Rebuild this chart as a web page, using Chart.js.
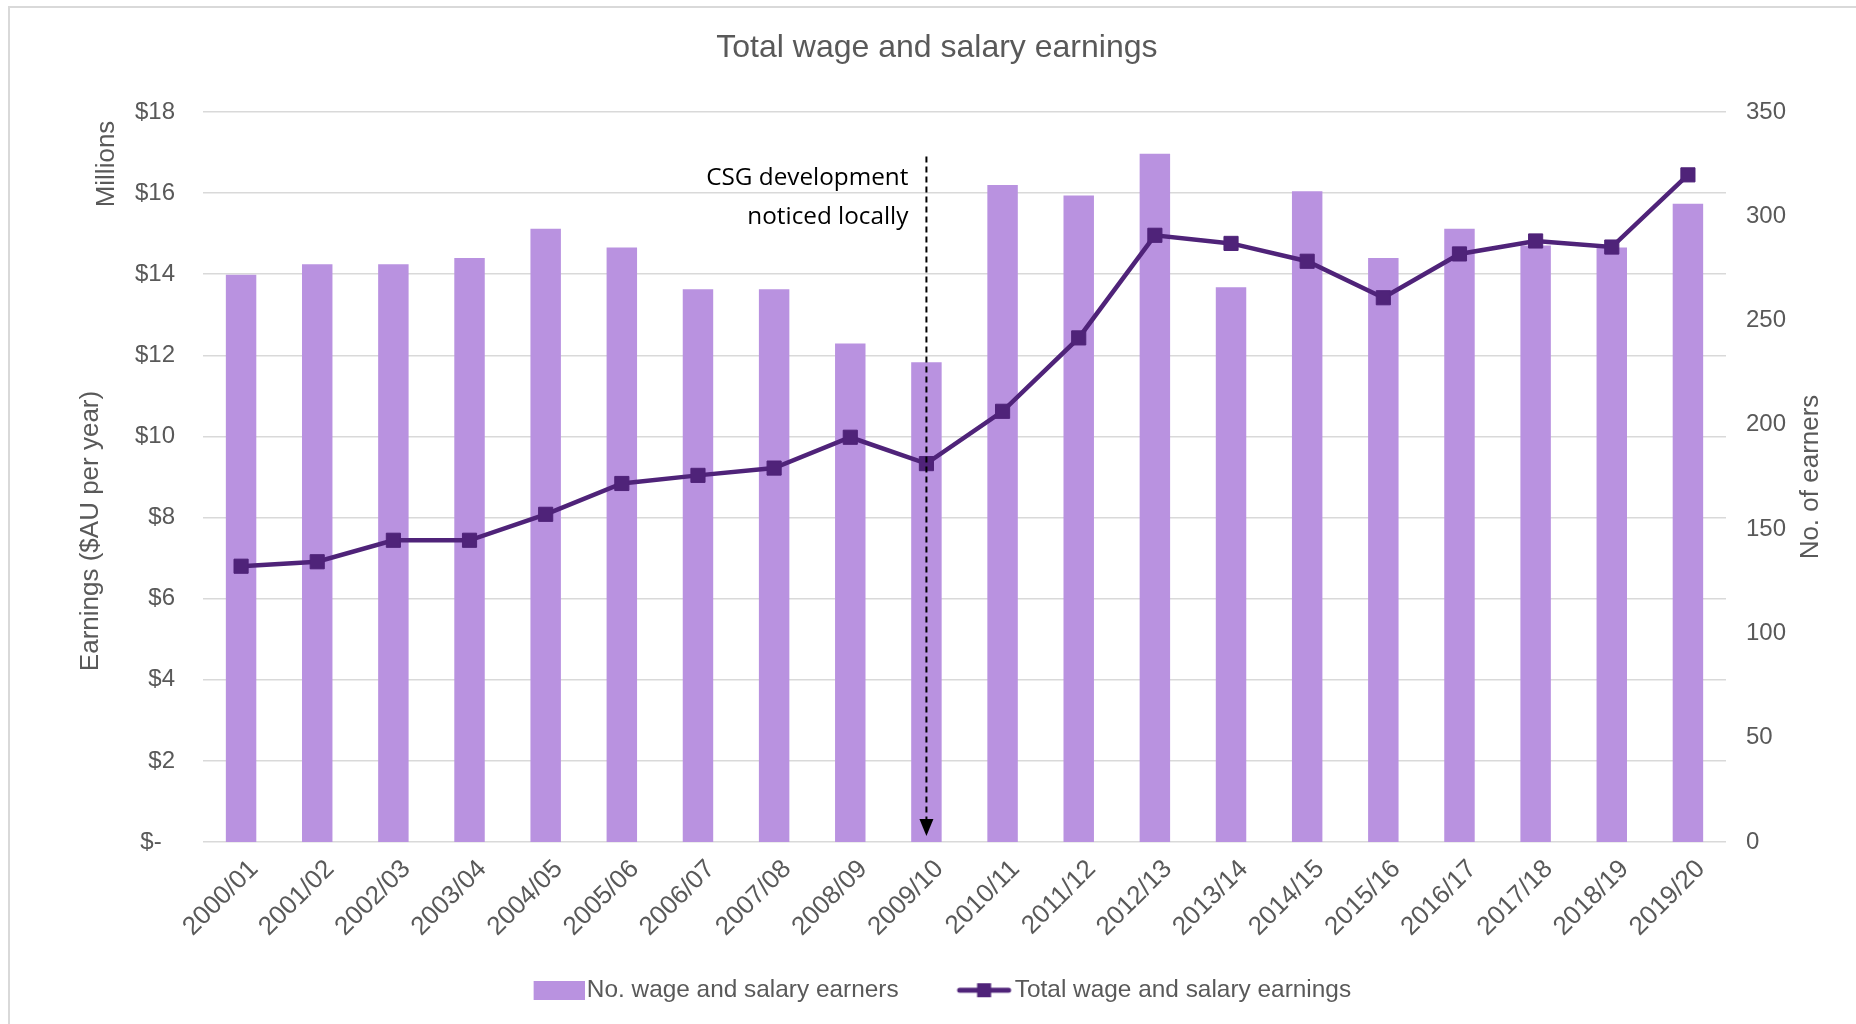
<!DOCTYPE html>
<html>
<head>
<meta charset="utf-8">
<script src="https://cdn.jsdelivr.net/npm/chart.js@4.4.0/dist/chart.umd.min.js"></script>
<style>
    body { margin: 0; background: #fff; }
</style>
</head>
<body>
<canvas id="graphic-earnings" width="1856" height="1024"></canvas>
<script>
const years = ['2000/01', '2001/02', '2002/03', '2003/04', '2004/05', '2005/06', '2006/07', '2007/08', '2008/09', '2009/10',
    '2010/11', '2011/12', '2012/13', '2013/14', '2014/15', '2015/16', '2016/17', '2017/18', '2018/19', '2019/20'];
// no. wage and salary earners (right axis)
const earners = [272, 277, 277, 280, 294, 285, 265, 265, 239, 230, 315, 310, 330, 266, 312, 280, 294, 286, 285, 306];
// total earnings, $ millions (left axis)
const earnings = [6.80, 6.91, 7.44, 7.44, 8.08, 8.84, 9.04, 9.22, 9.98, 9.33, 10.62, 12.43, 14.96, 14.76, 14.32, 13.42, 14.50, 14.82, 14.67, 16.45];
const leftTicks = [0, 2, 4, 6, 8, 10, 12, 14, 16, 18];
const rightTicks = [0, 50, 100, 150, 200, 250, 300, 350];

const corBarra = '#b992e0';
const corLinha = '#4f2379';
const cinza = '#595959';

const graphicEarnings = document.getElementById('graphic-earnings');

// legend icons sit at the right of a wide box, so the gap before the text stays small
function iconeBarra() {
    const c = document.createElement('canvas');
    c.width = 110; c.height = 19;
    const g = c.getContext('2d');
    g.fillStyle = corBarra;
    g.fillRect(59, 0, 51, 19);
    return c;
}

function iconeLinha() {
    const c = document.createElement('canvas');
    c.width = 110; c.height = 18;
    const g = c.getContext('2d');
    g.strokeStyle = corLinha;
    g.lineWidth = 5;
    g.lineCap = 'round';
    g.beginPath();
    g.moveTo(57, 9);
    g.lineTo(106, 9);
    g.stroke();
    g.fillStyle = corLinha;
    g.fillRect(74.5, 2, 14, 14);
    return c;
}

const moldura = {
    id: 'moldura',
    beforeDraw(chart) {
        const ctx = chart.ctx;
        ctx.save();
        ctx.fillStyle = '#fff';
        ctx.fillRect(0, 0, chart.width, chart.height);
        ctx.strokeStyle = '#d9d9d9';
        ctx.lineWidth = 2;
        ctx.strokeRect(9, 7, chart.width, chart.height);
        ctx.restore();
    }
};

function textoVertical(ctx, text, x, y) {
    ctx.save();
    ctx.translate(x, y);
    ctx.rotate(-Math.PI / 2);
    ctx.fillText(text, 0, 0);
    ctx.restore();
}

const titulosEixos = {
    id: 'titulosEixos',
    afterDraw(chart) {
        const ctx = chart.ctx;
        const area = chart.chartArea;
        ctx.save();
        ctx.fillStyle = cinza;
        ctx.font = '26px "Liberation Sans"';
        ctx.textAlign = 'center';
        ctx.textBaseline = 'middle';
        textoVertical(ctx, 'Earnings ($AU per year)', area.left - 112, area.top + 419);
        textoVertical(ctx, 'Millions', area.left - 96, area.top + 52);
        textoVertical(ctx, 'No. of earners', area.right + 85, area.top + 365);
        ctx.restore();
    }
};

const anotacao = {
    id: 'anotacao',
    afterDatasetsDraw(chart) {
        const ctx = chart.ctx;
        const x = chart.scales.x.getPixelForValue(9);
        const y = chart.scales.y;
        const yTop = y.getPixelForValue(16.9);
        const yTip = y.getPixelForValue(0) - 6;
        ctx.save();
        ctx.strokeStyle = '#000';
        ctx.fillStyle = '#000';
        ctx.lineWidth = 2;
        ctx.setLineDash([6, 4]);
        ctx.beginPath();
        ctx.moveTo(x, yTop);
        ctx.lineTo(x, yTip - 14);
        ctx.stroke();
        ctx.setLineDash([]);
        ctx.beginPath();
        ctx.moveTo(x - 7, yTip - 17);
        ctx.lineTo(x + 7, yTip - 17);
        ctx.lineTo(x, yTip);
        ctx.closePath();
        ctx.fill();
        ctx.font = '24.3px "Open Sans"';
        ctx.textAlign = 'right';
        ctx.textBaseline = 'middle';
        ctx.fillText('CSG development', x - 18, y.getPixelForValue(16.37));
        ctx.fillText('noticed locally', x - 18, y.getPixelForValue(15.41));
        ctx.restore();
    }
};

new Chart(graphicEarnings, {
    type: 'bar',
    data: {
        labels: years,
        datasets: [{
            type: 'bar',
            label: 'No. wage and salary earners',
            data: earners,
            yAxisID: 'y1',
            backgroundColor: corBarra,
            barPercentage: 0.4,
            categoryPercentage: 1.0,
            order: 1
        }, {
            type: 'line',
            label: 'Total wage and salary earnings   ',
            data: earnings,
            yAxisID: 'y',
            borderColor: corLinha,
            backgroundColor: corLinha,
            borderWidth: 4.5,
            pointStyle: 'rect',
            pointRadius: 10,
            pointBorderWidth: 1,
            tension: 0,
            order: 0
        }]
    },
    options: {
        responsive: false,
        maintainAspectRatio: false,
        animation: false,
        layout: {
            padding: { left: 0, right: 0, top: 0, bottom: 11.6 }
        },
        scales: {
            x: {
                grid: { display: false, drawTicks: false },
                border: { display: false },
                ticks: {
                    color: cinza,
                    font: { family: 'Liberation Sans', size: 26 },
                    minRotation: 45,
                    maxRotation: 45,
                    padding: 12,
                    labelOffset: 13
                },
                afterFit: s => { s.height = 122; }
            },
            y: {
                position: 'left',
                min: 0,
                max: 18,
                afterBuildTicks: s => { s.ticks = leftTicks.map(v => ({ value: v })); },
                grid: { color: '#d9d9d9', lineWidth: 1.5, drawTicks: false },
                border: { display: false },
                ticks: {
                    color: cinza,
                    font: { family: 'Liberation Sans', size: 24 },
                    padding: 28,
                    callback: v => v === 0 ? '$-  ' : '$' + v
                },
                afterFit: s => { s.width = 203; }
            },
            y1: {
                position: 'right',
                min: 0,
                max: 350,
                afterBuildTicks: s => { s.ticks = rightTicks.map(v => ({ value: v })); },
                grid: { display: false, drawTicks: false },
                border: { display: false },
                ticks: {
                    color: cinza,
                    font: { family: 'Liberation Sans', size: 24 },
                    padding: 20
                },
                afterFit: s => { s.width = 130; }
            }
        },
        plugins: {
            title: {
                display: true,
                text: '  Total wage and salary earnings',
                color: cinza,
                font: { family: 'Liberation Sans', size: 32, weight: 'normal' },
                padding: { top: 29, bottom: 44.6 }
            },
            legend: {
                position: 'bottom',
                labels: {
                    color: cinza,
                    font: { family: 'Liberation Sans', size: 24.4 },
                    usePointStyle: true,
                    pointStyleWidth: 90,
                    padding: 14,
                    generateLabels: chart => {
                        const items = Chart.defaults.plugins.legend.labels.generateLabels(chart);
                        items.sort((a, b) => a.datasetIndex - b.datasetIndex);
                        items[0].pointStyle = iconeBarra();
                        items[1].pointStyle = iconeLinha();
                        return items;
                    }
                }
            },
            tooltip: { enabled: false }
        }
    },
    plugins: [moldura, anotacao, titulosEixos]
});
</script>
</body>
</html>
